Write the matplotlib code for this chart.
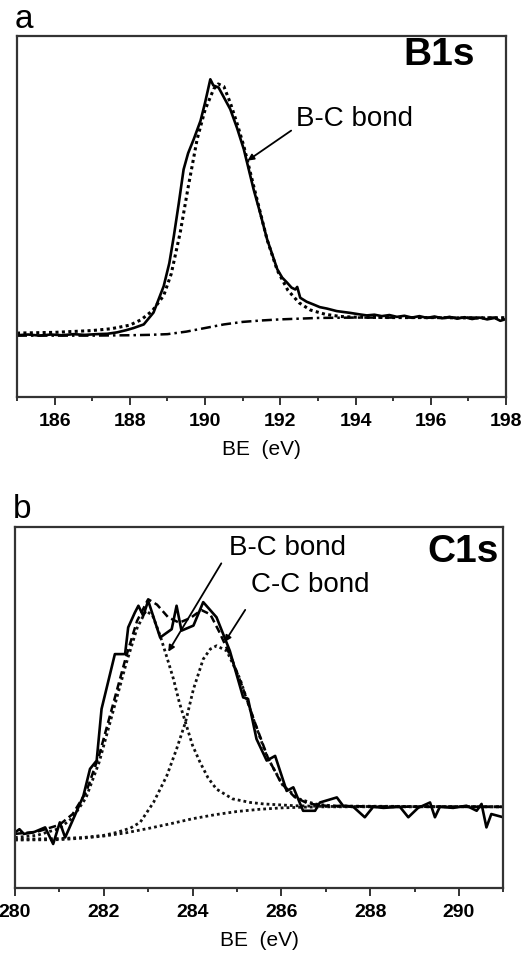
import matplotlib
matplotlib.use('Agg')
import matplotlib.pyplot as plt
from matplotlib.ticker import MultipleLocator

plt.rcParams['font.family'] = ['Liberation Sans', 'DejaVu Sans']

# Panel a: B1s spectrum (arbitrary intensity units)
b1s_x = [185.0, 185.3, 185.6, 185.9, 186.2, 186.5, 186.8, 187.1, 187.4,
         187.66, 187.9, 188.1, 188.37, 188.63, 188.9, 189.05, 189.17, 189.3,
         189.43, 189.55, 189.7, 189.88, 190.0, 190.14, 190.22, 190.36, 190.5,
         190.67, 190.85, 191.03, 191.15, 191.29, 191.45, 191.65, 191.8, 191.92,
         192.05, 192.18, 192.3, 192.4, 192.45, 192.53, 192.7, 192.89, 193.05,
         193.24, 193.5, 193.86, 194.1, 194.3, 194.5, 194.7, 194.9, 195.1, 195.3,
         195.5, 195.7, 195.9, 196.1, 196.3, 196.5, 196.7, 196.9, 197.1, 197.3,
         197.5, 197.7, 197.85, 198.0]
b1s_y = [17.0, 17.2, 16.9, 17.2, 17.0, 17.3, 17.1, 17.3, 17.4,
         17.8, 18.4, 19.0, 20.0, 23.3, 30.6, 37.0, 44.5, 53.5,
         63.0, 67.5, 71.4, 76.5, 81.5, 88.0, 86.3, 85.7, 83.0,
         79.7, 74.5, 68.6, 63.5, 57.5, 51.5, 43.6, 39.0, 35.3,
         33.0, 31.6, 30.2, 29.7, 30.4, 27.4, 26.3, 25.5, 24.8,
         24.4, 23.7, 23.2, 22.8, 22.5, 22.7, 22.3, 22.6, 22.1, 22.4,
         21.9, 22.3, 21.8, 22.2, 21.7, 22.1, 21.6, 22.0, 21.5, 21.9,
         21.4, 21.8, 21.0, 21.5]

fit_a_x = [185.0, 186.0, 187.0, 187.5, 188.0, 188.3, 188.6, 188.9, 189.1, 189.34,
           189.55, 189.79, 190.0, 190.23, 190.35, 190.5, 190.67, 190.85, 191.03, 191.29,
           191.65, 191.92, 192.2, 192.5, 192.8, 193.2, 193.6, 194.0, 195.0, 196.0,
           197.0, 198.0]
fit_a_y = [17.6, 17.8, 18.3, 18.8, 19.8, 21.3, 23.8, 28.0, 34.0, 45.5,
           58.0, 71.4, 79.5, 85.3, 86.7, 86.0, 81.5, 75.8, 69.5, 58.5,
           43.5, 35.0, 29.5, 26.0, 24.0, 22.8, 22.2, 22.0, 21.9, 21.9,
           21.8, 21.8]

bg_a_x = [185.0, 187.0, 188.0, 188.5, 189.0, 189.5, 190.0, 190.5, 191.0, 191.5,
          192.0, 193.0, 194.0, 196.0, 198.0]
bg_a_y = [16.9, 16.9, 17.0, 17.1, 17.3, 18.0, 19.0, 20.0, 20.7, 21.1,
          21.4, 21.8, 21.9, 21.9, 21.9]

# Panel b: C1s spectrum
c1s_x = [280.0, 280.1, 280.2, 280.41, 280.68, 280.86, 281.01, 281.13, 281.54, 281.69,
         281.84, 281.95, 282.25, 282.48, 282.55, 282.7, 282.78, 282.89, 283.0, 283.27,
         283.53, 283.64, 283.75, 284.02, 284.24, 284.54, 284.84, 285.14, 285.25, 285.44,
         285.67, 285.86, 286.12, 286.27, 286.49, 286.76, 286.87, 287.25, 287.39, 287.62,
         287.88, 288.07, 288.3, 288.67, 288.86, 289.08, 289.35, 289.46, 289.57, 289.87,
         290.17, 290.4, 290.51, 290.62, 290.73, 291.0]
c1s_y = [15.4, 16.3, 15.0, 15.4, 16.8, 12.2, 18.2, 14.0, 25.5, 33.0,
         35.3, 49.6, 64.8, 64.8, 72.2, 76.3, 78.2, 75.4, 79.6, 69.4,
         71.7, 78.2, 71.3, 72.7, 79.2, 75.0, 65.7, 52.8, 52.4, 41.3,
         35.3, 36.6, 26.9, 27.9, 21.4, 21.4, 23.7, 25.1, 22.8, 22.5,
         19.6, 22.5, 22.2, 22.5, 19.6, 22.2, 23.7, 19.6, 22.5, 22.2,
         22.8, 21.4, 23.3, 16.8, 20.5, 19.6]

env_x = [280.0, 280.5, 281.0, 281.3, 281.6, 281.9, 282.2, 282.5, 282.75, 283.0,
         283.2, 283.45, 283.7, 283.95, 284.2, 284.4, 284.6, 284.9, 285.1, 285.4,
         285.7, 286.0, 286.3, 286.6, 287.0, 288.0, 289.0, 290.0, 291.0]
env_y = [15.0, 15.6, 17.5, 20.5, 26.5, 37.0, 50.5, 64.0, 74.0, 80.0,
         78.5, 75.0, 73.5, 74.8, 77.0, 75.8, 71.0, 63.0, 56.5, 46.0,
         36.0, 29.0, 25.2, 23.4, 22.8, 22.6, 22.5, 22.5, 22.5]

bc_x = [280.0, 280.5, 281.0, 281.3, 281.6, 281.9, 282.2, 282.5, 282.75, 282.95,
        283.1, 283.27, 283.42, 283.57, 283.7, 283.84, 284.0, 284.17, 284.35, 284.54,
        284.9, 285.3, 285.6, 286.3, 287.0, 291.0]
bc_y = [14.0, 14.6, 16.5, 19.5, 25.0, 35.0, 48.5, 62.0, 72.0, 76.8,
        75.5, 69.9, 64.0, 57.9, 51.5, 45.9, 39.5, 34.8, 30.5, 27.4,
        24.7, 23.7, 23.3, 22.8, 22.6, 22.5]

cc_x = [280.0, 281.0, 281.54, 282.0, 282.29, 282.6, 282.82, 283.12, 283.42, 283.64,
        283.84, 284.02, 284.24, 284.4, 284.54, 284.77, 285.07, 285.37, 285.67, 286.04,
        286.4, 286.75, 287.2, 291.0]
cc_y = [13.5, 13.7, 14.0, 14.6, 15.4, 16.6, 18.2, 23.7, 31.1, 38.5,
        45.9, 55.1, 63.4, 66.2, 67.1, 65.7, 57.9, 46.8, 36.6, 28.3,
        24.7, 23.3, 22.7, 22.5]

bg_b_x = [280.0, 281.0, 281.5, 282.0, 282.5, 283.0, 283.5, 284.0, 284.5, 285.0,
          285.5, 286.0, 286.5, 287.0, 291.0]
bg_b_y = [13.3, 13.4, 13.8, 14.4, 15.3, 16.5, 17.8, 19.2, 20.3, 21.2,
          21.8, 22.2, 22.4, 22.5, 22.5]

DOT = (0, (1, 1.1))
DASH = (0, (3, 1.6))
DASHDOT = (0, (4, 1.6, 1, 1.6))
SPINE = '#333333'

fig = plt.figure(figsize=(5.24, 9.54), dpi=100, facecolor='white')
ax_a = fig.add_axes([0.0324, 0.5833, 0.9332, 0.3779])
ax_b = fig.add_axes([0.0286, 0.0681, 0.9319, 0.3784])


def style_axis(ax, xlim):
    ax.set_xlim(*xlim)
    ax.set_ylim(0, 100)
    ax.set_yticks([])
    ax.xaxis.set_major_locator(MultipleLocator(2))
    ax.xaxis.set_minor_locator(MultipleLocator(1))
    ax.tick_params(axis='x', which='major', direction='out', length=6, width=1.4,
                   color=SPINE, pad=5, labelsize=14)
    ax.tick_params(axis='x', which='minor', direction='out', length=3, width=1.4,
                   color=SPINE)
    for lab in ax.get_xticklabels():
        lab.set_fontweight('bold')
    for spine in ax.spines.values():
        spine.set_edgecolor(SPINE)
        spine.set_linewidth(1.6)
    ax.set_xlabel('BE  (eV)', fontsize=15, labelpad=7)


# ---- panel a ----
ax_a.plot(bg_a_x, bg_a_y, color='black', lw=1.8, linestyle=DASHDOT)
ax_a.plot(fit_a_x, fit_a_y, color='black', lw=2.2, linestyle=DOT)
ax_a.plot(b1s_x, b1s_y, color='black', lw=1.9)
style_axis(ax_a, (185, 198))
ax_a.text(196.23, 94.9, 'B1s', fontsize=28, fontweight='bold', ha='center', va='center')
ax_a.annotate('', xy=(191.07, 65.0), xytext=(192.35, 74.2),
              arrowprops=dict(arrowstyle='-|>', color='black', lw=1.3, mutation_scale=9))
ax_a.text(193.96, 77.2, 'B-C bond', fontsize=20, ha='center', va='center')

# ---- panel b ----
ax_b.plot(bg_b_x, bg_b_y, color='#111111', lw=2.0, linestyle=DOT)
ax_b.plot(bc_x, bc_y, color='#111111', lw=2.0, linestyle=DOT)
ax_b.plot(cc_x, cc_y, color='#111111', lw=2.0, linestyle=DOT)
ax_b.plot(env_x, env_y, color='black', lw=1.8, linestyle=DASH)
ax_b.plot(c1s_x, c1s_y, color='black', lw=1.9)
style_axis(ax_b, (280, 291))
ax_b.text(290.09, 93.4, 'C1s', fontsize=28, fontweight='bold', ha='center', va='center')
ax_b.annotate('', xy=(283.42, 64.8), xytext=(284.68, 90.6),
              arrowprops=dict(arrowstyle='-|>', color='black', lw=1.3, mutation_scale=9))
ax_b.annotate('', xy=(284.69, 67.5), xytext=(285.22, 77.7),
              arrowprops=dict(arrowstyle='-|>', color='black', lw=1.3, mutation_scale=9))
ax_b.text(286.13, 94.5, 'B-C bond', fontsize=20, ha='center', va='center')
ax_b.text(286.64, 84.2, 'C-C bond', fontsize=20, ha='center', va='center')

fig.text(0.027, 0.9706, 'a', fontsize=24, ha='left', va='baseline')
fig.text(0.025, 0.457, 'b', fontsize=24, ha='left', va='baseline')

fig.savefig('out.png', dpi=100, facecolor='white')
